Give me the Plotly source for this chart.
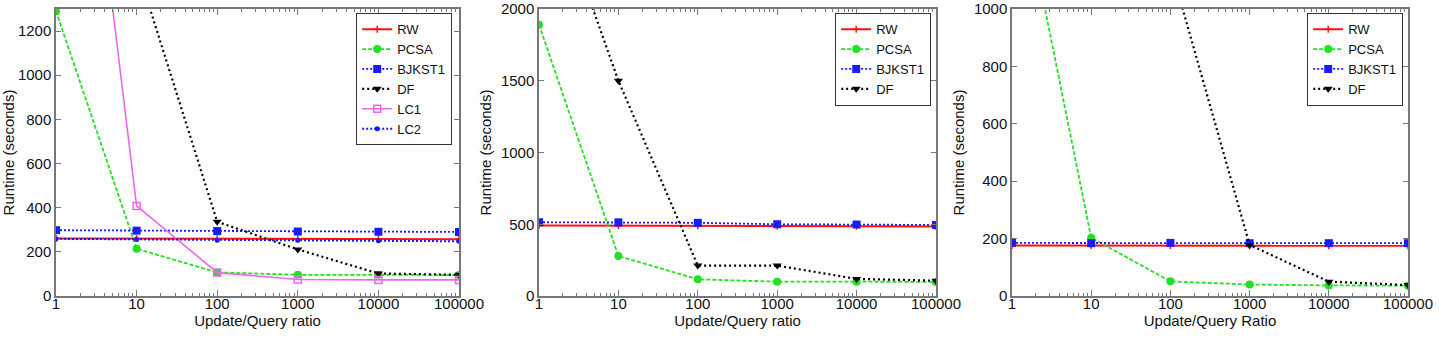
import plotly.graph_objects as go

# ---- data ----
ratios = [1, 10, 100, 1000, 10000, 100000]
tick_labels = ["1", "10", "100", "1000", "10000", "100000"]

# panel 1
rw_1 = [261, 260, 259, 258, 258, 257]
pcsa_1 = [1290, 214, 107, 96, 96, 95]
bjkst1_1 = [298, 296, 294, 292, 291, 290]
df_1 = [3000, 1493, 336, 211, 102, 96]
lc1_1 = [3420, 408, 106, 75, 73, 73]
lc2_1 = [259, 256, 253, 252, 250, 248]

# panel 2
rw_2 = [491, 490, 489, 487, 486, 484]
pcsa_2 = [1891, 279, 116, 100, 100, 98]
bjkst1_2 = [514, 513, 510, 500, 498, 495]
df_2 = [3060, 1500, 212, 212, 119, 107]

# panel 3
rw_3 = [176, 176, 176, 175, 175, 175]
pcsa_3 = [1570, 203, 51, 40, 37, 36]
bjkst1_3 = [185, 184, 185, 184, 184, 184]
df_3 = [6000, 3000, 1151, 178, 50, 38]

W, H = 1439, 337
FONT = "Liberation Sans, Arial, sans-serif"

styles = {
    "RW": dict(color="#ff1010", dash="solid", symbol="cross-thin", size=5, width=2),
    "PCSA": dict(color="#22e022", dash="4px,2px", symbol="circle", size=8, width=1.8),
    "BJKST1": dict(color="#1a1aff", dash="2px,2px", symbol="square", size=8, width=1.8),
    "DF": dict(color="#000000", dash="2px,3px", symbol="triangle-down", size=8, width=2.2),
    "LC1": dict(color="#ee66ee", dash="solid", symbol="square-open", size=7, width=1.6),
    "LC2": dict(color="#1a1aff", dash="2px,2px", symbol="circle", size=5, width=2),
}

panels = [
    dict(series=[("RW", rw_1), ("PCSA", pcsa_1), ("BJKST1", bjkst1_1), ("DF", df_1), ("LC1", lc1_1), ("LC2", lc2_1)],
         x0=56, x1=459, ymax=1300, dtick=200, xtitle="Update/Query ratio", legend_right=452),
    dict(series=[("RW", rw_2), ("PCSA", pcsa_2), ("BJKST1", bjkst1_2), ("DF", df_2)],
         x0=539, x1=936, ymax=2000, dtick=500, xtitle="Update/Query ratio", legend_right=931),
    dict(series=[("RW", rw_3), ("PCSA", pcsa_3), ("BJKST1", bjkst1_3), ("DF", df_3)],
         x0=1012, x1=1408, ymax=1000, dtick=200, xtitle="Update/Query Ratio", legend_right=1403),
]

ytop, ybot = 9, 296
fig = go.Figure()
minor_vals = [m * 10 ** e for e in range(0, 5) for m in range(2, 10)]

layout = dict(
    width=W, height=H,
    margin=dict(l=0, r=0, t=0, b=0, autoexpand=False),
    paper_bgcolor="white", plot_bgcolor="white",
    font=dict(family=FONT, size=15, color="#111111"),
    showlegend=True,
)

for i, p in enumerate(panels):
    n = "" if i == 0 else str(i + 1)
    xa, ya = "x" + n, "y" + n
    leg = "legend" + n
    for name, vals in p["series"]:
        s = styles[name]
        fig.add_trace(go.Scatter(
            x=ratios, y=vals, name=name, mode="lines+markers",
            xaxis=xa, yaxis=ya, legend=leg,
            line=dict(color=s["color"], dash=s["dash"], width=s["width"]),
            marker=dict(symbol=s["symbol"], size=s["size"], color=s["color"],
                        line=dict(color=s["color"], width=1.5 if s["symbol"] in ("cross-thin", "square-open") else 0)),
            cliponaxis=True,
        ))
    axis_common = dict(
        showline=True, linecolor="#777777", linewidth=1.5, mirror="ticks",
        ticks="inside", tickcolor="#777777", showgrid=False, zeroline=False,
        tickfont=dict(family=FONT, size=15, color="#111111"),
    )
    layout["xaxis" + n] = dict(
        axis_common, type="log", range=[0, 5],
        domain=[p["x0"] / W, p["x1"] / W], anchor=ya,
        tickmode="array", tickvals=ratios, ticktext=tick_labels, ticklen=6,
        ticklabelstandoff=-7,
        minor=dict(tickmode="array", tickvals=minor_vals, ticks="inside", ticklen=3, tickcolor="#777777"),
        title=dict(text=p["xtitle"], font=dict(family=FONT, size=15, color="#111111"), standoff=2),
    )
    layout["yaxis" + n] = dict(
        axis_common, range=[0, p["ymax"]], dtick=p["dtick"], ticklen=5,
        domain=[(H - ybot) / H, (H - ytop) / H], anchor=xa,
        title=dict(text="Runtime (seconds)", font=dict(family=FONT, size=15, color="#111111"), standoff=6),
    )
    layout[leg] = dict(
        x=p["legend_right"] / W, xanchor="right", y=(H - 13) / H, yanchor="top",
        bgcolor="white", bordercolor="#333333", borderwidth=1.2,
        font=dict(family=FONT, size=13, color="#111111"),
        itemwidth=30, tracegroupgap=0,
    )

fig.update_layout(**layout)
fig.write_html("out.html", config={"displayModeBar": False},
               post_script="document.body.style.margin='0';")
